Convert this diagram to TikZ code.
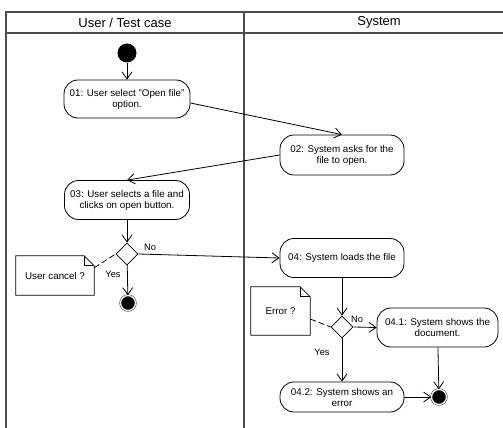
\documentclass[tikz,border=0pt]{standalone}
\usepackage{fontspec}
\setmainfont{Liberation Sans}
\usetikzlibrary{shapes.geometric,arrows.meta}

\tikzstyle{lane}=[draw=gray!60!black, line width=1.2pt]
\tikzstyle{activity}=[draw, line width=0.8pt, rounded corners=14pt, fill=white, align=center, inner sep=2pt,
  font=\fontsize{9.8}{11}\selectfont]
\tikzstyle{choice}=[draw, line width=0.8pt, diamond, fill=white, minimum size=22pt, inner sep=0pt]
\tikzstyle{notebox}=[minimum height=39pt, font=\fontsize{9.8}{11}\selectfont]
\tikzstyle{guard}=[font=\fontsize{9.3}{11}\selectfont]
\tikzstyle{flow}=[draw, line width=0.8pt, -{Straight Barb[length=7pt,width=10pt]}]

\begin{document}
\begin{tikzpicture}[x=1pt, y=-1pt]
\useasboundingbox (0,0) rectangle (503,428);

% swimlanes
\draw[lane] (503,12) -- (6,12) -- (6,428);
\draw[lane] (6,33) -- (503,33);
\draw[lane] (244,12) -- (244,428);
\node[font=\fontsize{13}{15}\selectfont] (userlane) at (125,22.5) {User / Test case};
\node[font=\fontsize{13}{15}\selectfont] (syslane) at (379,22.5) {System};

% start and end points
\node[circle, fill=black, minimum size=19pt, inner sep=0pt] (start) at (127,53) {};
\node[circle, draw, fill=black, double=white, double distance=1.3pt, minimum size=15pt, inner sep=0pt] (end1) at (128,303) {};
\node[circle, draw, fill=black, double=white, double distance=1.3pt, minimum size=15pt, inner sep=0pt] (end2) at (439,397) {};

% activities
\node[activity, minimum width=126pt, minimum height=38pt] (n01) at (127,99) {01: User select "Open file"\\option.};
\node[activity, minimum width=124pt, minimum height=40pt] (n02) at (342,155) {02: System asks for the\\file to open.};
\node[activity, minimum width=125pt, minimum height=39pt] (n03) at (127,200) {03: User selects a file and\\clicks on open button.};
\node[activity, minimum width=124pt, minimum height=39pt] (n04) at (342,258) {04: System loads the file};
\node[activity, minimum width=121pt, minimum height=39pt] (n041) at (437.5,327.5) {04.1: System shows the\\document.};
\node[activity, minimum width=124pt, minimum height=30pt] (n042) at (342,397) {04.2: System shows an\\error};

% decisions
\node[choice] (d1) at (127,254) {};
\node[choice] (d2) at (342,327) {};

% notes with folded corner
\node[notebox, minimum width=78pt] (cancel) at (55,275.5) {User cancel ?};
\node[notebox, minimum width=59pt, minimum height=48pt] (errnote) at (280.5,311) {Error ?};
\foreach \nt in {cancel,errnote}{
  \draw[line width=0.8pt] (\nt.south west) -- (\nt.north west) -- ([xshift=-10pt]\nt.north east)
    -- ([yshift=-10pt]\nt.north east) -- (\nt.south east) -- cycle;
  \draw[line width=0.8pt] ([xshift=-10pt]\nt.north east) -- ([xshift=-10pt,yshift=-10pt]\nt.north east)
    -- ([yshift=-10pt]\nt.north east);
}

% control flow
\path[flow] (start) -- (n01);
\path[flow] ([yshift=-4pt]n01.east) -- (n02.north);
\path[flow] (n02.west) -- (n03.north);
\path[flow] (n03) -- (d1);
\path[flow] (d1) -- (end1);
\path[flow] (d1.east) -- (n04.west);
\path[flow] (n04) -- (d2);
\path[flow] (d2.east) -- (n041.west);
\path[flow] (d2) -- (n042);
\path[flow] (n041) -- (end2);
\path[flow] (n042) -- (end2);

\draw[dash pattern=on 6pt off 3pt, line width=0.8pt] ([yshift=-12pt]cancel.north east) -- (d1.west);
\draw[dash pattern=on 6pt off 3pt, line width=0.8pt] ([yshift=-8pt]errnote.east) -- (d2.west);

% guards
\node[guard] (no1) at (150,247) {No};
\node[guard] (yes1) at (113,274) {Yes};
\node[guard] (no2) at (357,319) {No};
\node[guard] (yes2) at (322,352) {Yes};

\end{tikzpicture}
\end{document}
